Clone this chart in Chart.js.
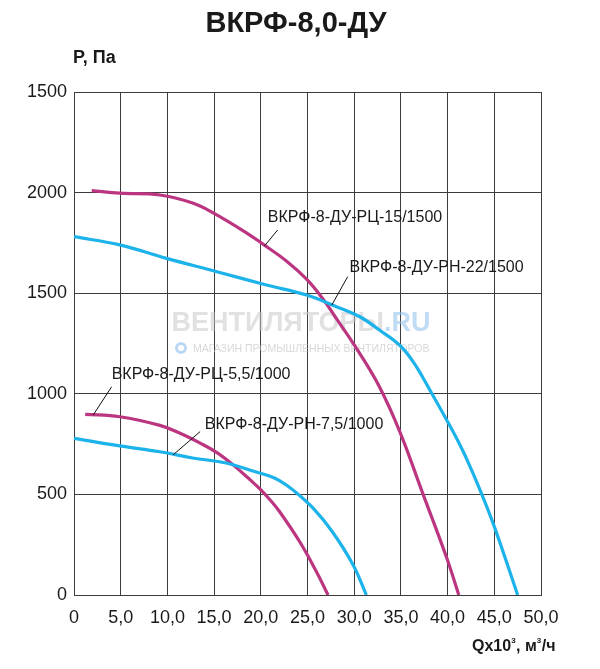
<!DOCTYPE html>
<html><head><meta charset="utf-8">
<script src="https://cdn.jsdelivr.net/npm/chart.js@4"></script>
<style>html,body{margin:0;padding:0;background:#fff}#w{width:600px;height:669px;position:relative}</style>
</head><body><div id="w"><canvas id="c"></canvas></div>
<script>
// ---- data ----
const xTickLabels = ['0','5,0','10,0','15,0','20,0','25,0','30,0','35,0','40,0','45,0','50,0'];
const yTickLabels = ['0','500','1000','1500','2000','1500'];

const q_rc15 = [1.9, 4.9, 9.2, 12.7, 14.9, 18.5, 20.2, 22.8, 24.9, 26.6, 28.3, 30.6, 32.7, 34.9, 37.3, 39.9, 41.2];
const p_rc15 = [2010, 1997, 1988, 1948, 1899, 1799, 1745, 1658, 1570, 1475, 1360, 1200, 1035, 810, 510, 185, 0];

const q_rn22 = [0, 4.9, 9.9, 15.3, 20.6, 24.9, 28.1, 30.6, 32.7, 34.9, 36.3, 37.3, 38.4, 39.9, 41.0, 42.0, 43.4, 45.0, 47.5];
const p_rn22 = [1781, 1740, 1673, 1607, 1541, 1491, 1433, 1383, 1317, 1240, 1160, 1085, 994, 870, 775, 680, 530, 340, 0];

const q_rc55 = [1.2, 4.9, 9.2, 11.3, 13.5, 15.3, 17.0, 18.8, 19.9, 21.0, 22.0, 24.2, 26.0, 27.2];
const p_rc55 = [898, 886, 843, 805, 755, 708, 648, 575, 527, 472, 415, 262, 112, 0];

const q_rn75 = [0, 4.9, 9.2, 12.7, 16.3, 18.8, 21.0, 22.0, 23.5, 25.6, 27.7, 29.9, 31.3];
const p_rn75 = [779, 741, 712, 681, 656, 621, 590, 568, 520, 432, 312, 148, 0];

const seriesNames = ['ВКРФ-8-ДУ-РЦ-15/1500','ВКРФ-8-ДУ-РН-22/1500','ВКРФ-8-ДУ-РЦ-5,5/1000','ВКРФ-8-ДУ-РН-7,5/1000'];

// ---- annotation placement (data coords) ----
const notes = [
  {i:0, tx:20.75, ty:1874, x1:21.8, y1:1814, x2:20.4, y2:1735},
  {i:1, tx:29.5,  ty:1625, x1:29.3, y1:1582, x2:27.6, y2:1441},
  {i:2, tx:4.03,  ty:1093, x1:4.03, y1:1035, x2:2.06, y2:895},
  {i:3, tx:14.0,  ty:845,  x1:13.5, y1:812,  x2:10.6, y2:696}
];

const MAG = '#bb3580', CYAN = '#1cb2ea';
const pts = (xs, ys) => xs.map((x, k) => ({x, y: ys[k]}));
const ds = (i, xs, ys, c) => ({label: seriesNames[i], data: pts(xs, ys), borderColor: c, backgroundColor: c,
  borderWidth: 3.2, pointRadius: 0, tension: 0.4, fill: false});

const FONT = "'Liberation Sans', Arial, sans-serif";

const decor = {
  id: 'decor',
  beforeDatasetsDraw(chart) {
    const ctx = chart.ctx;
    ctx.save();
    ctx.textBaseline = 'middle';
    ctx.textAlign = 'left';
    ctx.font = "bold 27px " + FONT;
    const a = 'ВЕНТИЛЯТОРЫ', b = '.RU';
    const wa = ctx.measureText(a).width, wb = ctx.measureText(b).width;
    let sx = 301 - (wa + wb) / 2;
    ctx.fillStyle = 'rgba(200,200,200,0.55)';
    ctx.fillText(a, sx, 324);
    ctx.fillStyle = 'rgba(140,190,235,0.55)';
    ctx.fillText(b, sx + wa, 324);
    ctx.font = "10.5px " + FONT;
    ctx.fillStyle = 'rgba(190,190,190,0.6)';
    ctx.fillText('МАГАЗИН ПРОМЫШЛЕННЫХ ВЕНТИЛЯТОРОВ', 193, 349);
    ctx.strokeStyle = 'rgba(140,190,235,0.6)';
    ctx.lineWidth = 3;
    ctx.beginPath(); ctx.arc(181, 348, 4.5, 0, Math.PI * 2); ctx.stroke();
    ctx.restore();
  },
  afterDraw(chart) {
    const ctx = chart.ctx, xs = chart.scales.x, ys = chart.scales.y;
    ctx.save();
    ctx.fillStyle = '#1a1a1a';
    ctx.textAlign = 'center';
    ctx.textBaseline = 'middle';
    ctx.font = "bold 29px " + FONT;
    ctx.fillText('ВКРФ-8,0-ДУ', 296, 24);
    ctx.textAlign = 'left';
    ctx.font = "bold 18px " + FONT;
    ctx.fillText('P, Па', 73, 58);
    // x axis title with superscripts
    const parts = [['Qx10', false], ['3', true], [', м', false], ['3', true], ['/ч', false]];
    let px = 472;
    const py = 647;
    parts.forEach(([t, sup]) => {
      ctx.font = sup ? "bold 8px " + FONT : "bold 16px " + FONT;
      ctx.fillText(t, px, sup ? py - 6 : py);
      px += ctx.measureText(t).width + (sup ? 0.5 : 0);
    });
    // annotations
    ctx.font = "16px " + FONT;
    ctx.strokeStyle = '#111';
    ctx.lineWidth = 1;
    notes.forEach(n => {
      ctx.fillText(seriesNames[n.i], xs.getPixelForValue(n.tx), ys.getPixelForValue(n.ty));
      ctx.beginPath();
      ctx.moveTo(xs.getPixelForValue(n.x1), ys.getPixelForValue(n.y1));
      ctx.lineTo(xs.getPixelForValue(n.x2), ys.getPixelForValue(n.y2));
      ctx.stroke();
    });
    ctx.restore();
  }
};

new Chart(document.getElementById('c'), {
  type: 'line',
  data: {datasets: [
    ds(1, q_rn22, p_rn22, CYAN),
    ds(0, q_rc15, p_rc15, MAG),
    ds(3, q_rn75, p_rn75, CYAN),
    ds(2, q_rc55, p_rc55, MAG)
  ]},
  options: {
    responsive: true, maintainAspectRatio: false, animation: false,
    layout: {padding: {left: 0, right: 59, top: 92, bottom: 0}},
    plugins: {legend: {display: false}, tooltip: {enabled: false}, title: {display: false}},
    scales: {
      x: {type: 'linear', min: 0, max: 50,
        afterFit: s => { s.height = 74; },
        ticks: {stepSize: 5, padding: 12, color: '#1a1a1a', font: {family: FONT, size: 18},
          callback: (v, i) => xTickLabels[i], maxRotation: 0},
        grid: {color: '#3c3c3c', lineWidth: 1, drawTicks: false},
        border: {display: true, color: '#3c3c3c', width: 1}},
      y: {type: 'linear', min: 0, max: 2500,
        afterFit: s => { s.width = 74; },
        ticks: {stepSize: 500, padding: 7, color: '#1a1a1a', font: {family: FONT, size: 18},
          callback: (v, i) => yTickLabels[i]},
        grid: {color: '#3c3c3c', lineWidth: 1, drawTicks: false},
        border: {display: true, color: '#3c3c3c', width: 1}}
    }
  },
  plugins: [decor]
});
</script></body></html>
